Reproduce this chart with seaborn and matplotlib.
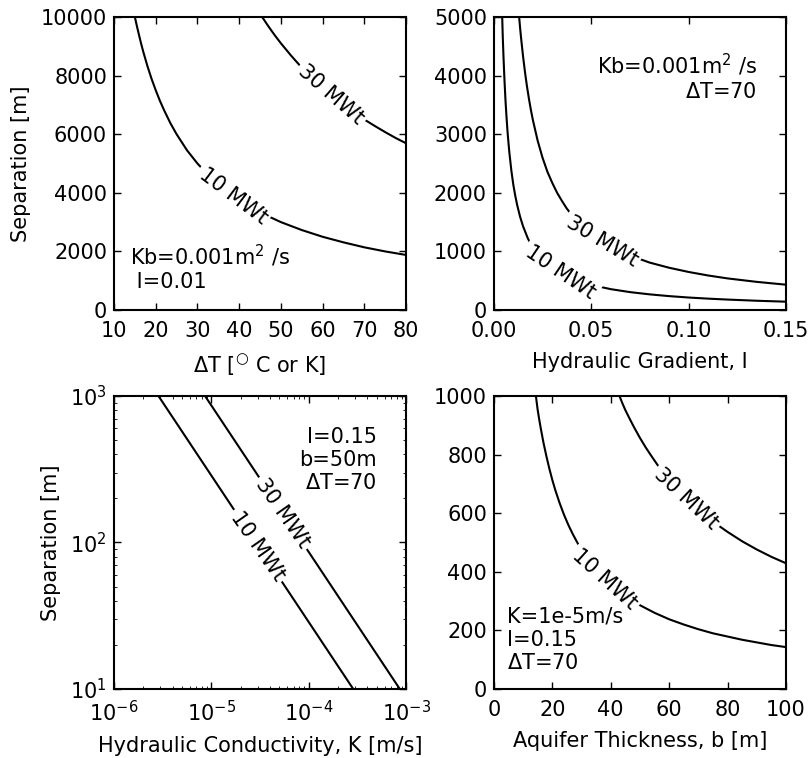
import matplotlib
matplotlib.use('Agg')
import matplotlib.pyplot as plt
import seaborn as sns
from matplotlib.ticker import FormatStrFormatter, MultipleLocator

# separation vs temperature difference (Kb=0.001, I=0.01)
dT_10 = [15, 15.5, 16, 16.5, 17, 18, 19, 20, 21, 22, 23.5, 25, 27.5, 30, 32.5, 35, 37.5,
         40, 45, 50, 55, 60, 65, 70, 75, 80]
sep_dT_10 = [10000, 9680, 9380, 9090, 8820, 8330, 7890, 7500, 7140, 6820, 6380, 6000, 5450,
             5000, 4620, 4290, 4000, 3750, 3330, 3000, 2730, 2500, 2310, 2140, 2000, 1880]
dT_30 = [45.5, 47, 48.5, 50, 52.5, 55, 57.5, 60, 62.5, 65, 67.5, 70, 72.5, 75, 77.5, 80]
sep_dT_30 = [10000, 9680, 9380, 9100, 8670, 8270, 7910, 7580, 7280, 7000, 6740, 6500,
             6280, 6070, 5870, 5690]

# separation vs hydraulic gradient (Kb=0.001, dT=70)
grad_10 = [0.0043, 0.0046, 0.005, 0.0055, 0.006, 0.0065, 0.007, 0.0075, 0.008, 0.009, 0.01,
           0.011, 0.012, 0.0135, 0.015, 0.0175, 0.02, 0.0225, 0.025, 0.03, 0.035, 0.04,
           0.045, 0.05, 0.06, 0.07, 0.08, 0.09, 0.1, 0.11, 0.12, 0.135, 0.15]
sep_grad_10 = [5000, 4650, 4290, 3900, 3570, 3300, 3060, 2860, 2680, 2380, 2140,
               1950, 1790, 1590, 1430, 1220, 1070, 950, 860, 715, 610, 535,
               475, 430, 357, 306, 268, 238, 214, 195, 179, 159, 143]
grad_30 = [0.013, 0.0135, 0.014, 0.015, 0.016, 0.017, 0.018, 0.019, 0.02, 0.0225, 0.025,
           0.0275, 0.03, 0.0325, 0.035, 0.0375, 0.04, 0.045, 0.05, 0.055, 0.06, 0.07,
           0.08, 0.09, 0.1, 0.11, 0.12, 0.135, 0.15]
sep_grad_30 = [5000, 4810, 4640, 4330, 4060, 3820, 3610, 3420, 3250, 2890, 2600,
               2360, 2170, 2000, 1860, 1730, 1625, 1445, 1300, 1180, 1080, 930,
               810, 722, 650, 590, 540, 481, 433]

# separation vs hydraulic conductivity (I=0.15, b=50, dT=70)
cond_10 = [2.86e-6, 1e-5, 2.86e-5, 1e-4, 2.86e-4]
sep_cond_10 = [1000, 286, 100, 28.6, 10]
cond_30 = [8.6e-6, 2e-5, 8.6e-5, 2e-4, 8.6e-4]
sep_cond_30 = [1000, 430, 100, 43, 10]

# separation vs aquifer thickness (K=1e-5, I=0.15, dT=70)
thick_10 = [14.4, 15, 15.5, 16, 17, 18, 19, 20, 21, 22.5, 24, 25.5, 27, 28.5, 30, 32.5, 35,
            37.5, 40, 45, 50, 55, 60, 65, 70, 75, 80, 85, 90, 95, 100]
sep_thick_10 = [1000, 953, 922, 893, 840, 794, 752, 714, 680, 635, 595, 560, 529, 501, 476,
                440, 408, 381, 357, 317, 286, 260, 238, 220, 204, 190, 179, 168, 159, 150, 143]
thick_30 = [43, 44, 45, 46.5, 48, 50, 52, 54, 56, 58, 60, 62.5, 65, 67.5, 70, 75, 80, 85,
            90, 95, 100]
sep_thick_30 = [1000, 975, 952, 922, 893, 857, 824, 794, 765, 739, 714, 686, 659, 635, 612,
                571, 536, 504, 476, 451, 429]

power_labels = ["10 MWt", "30 MWt"]

sns.set_style("ticks", {"xtick.direction": "in", "ytick.direction": "in"})
plt.rcParams.update({
    "font.family": ["DejaVu Sans"],
    "font.size": 15,
    "xtick.labelsize": 15,
    "ytick.labelsize": 15,
    "axes.labelsize": 15,
    "xtick.top": True,
    "ytick.right": True,
    "xtick.major.size": 5,
    "ytick.major.size": 5,
    "xtick.minor.size": 2.5,
    "ytick.minor.size": 2.5,
    "xtick.major.width": 1,
    "ytick.major.width": 1,
    "axes.linewidth": 1.5,
    "axes.edgecolor": "black",
    "xtick.color": "black",
    "ytick.color": "black",
    "text.color": "black",
    "axes.labelcolor": "black",
    "mathtext.default": "regular",
})

fig, axes = plt.subplots(2, 2, figsize=(8.08, 7.58), dpi=100)
fig.subplots_adjust(left=114 / 808, right=786 / 808, top=1 - 17 / 758,
                    bottom=1 - 689 / 758, wspace=0.30, hspace=0.293)


def draw(ax, curves, label_spots):
    for xs, ys in curves:
        sns.lineplot(x=xs, y=ys, ax=ax, color="k", lw=1.5, estimator=None, sort=False)
    for text, (x, y, rot) in zip(power_labels, label_spots):
        ax.text(x, y, text, rotation=rot, rotation_mode="anchor", ha="center", va="center",
                fontsize=15, zorder=5,
                bbox=dict(boxstyle="square,pad=0.15", fc="white", ec="none"))


ax = axes[0, 0]
draw(ax, [(dT_10, sep_dT_10), (dT_30, sep_dT_30)],
     [(38.5, 3900, -37), (62, 7350, -41)])
ax.set_xlim(10, 80)
ax.set_ylim(0, 10000)
ax.xaxis.set_major_locator(MultipleLocator(10))
ax.yaxis.set_major_locator(MultipleLocator(2000))
ax.set_xlabel(r"$\Delta$T [$^{\bigcirc}$ C or K]", labelpad=8)
ax.set_ylabel("Separation [m]", labelpad=7)
ax.text(0.055, 0.06, "Kb=0.001m$^2$ /s\n I=0.01", transform=ax.transAxes,
        ha="left", va="bottom")

ax = axes[0, 1]
draw(ax, [(grad_10, sep_grad_10), (grad_30, sep_grad_30)],
     [(0.034, 640, -34), (0.0555, 1180, -31)])
ax.set_xlim(0, 0.15)
ax.set_ylim(0, 5000)
ax.xaxis.set_major_locator(MultipleLocator(0.05))
ax.xaxis.set_major_formatter(FormatStrFormatter("%.2f"))
ax.yaxis.set_major_locator(MultipleLocator(1000))
ax.set_xlabel("Hydraulic Gradient, I", labelpad=8)
ax.text(0.9, 0.88, "Kb=0.001m$^2$ /s\n$\\Delta$T=70", transform=ax.transAxes,
        ha="right", va="top", multialignment="right")

ax = axes[1, 0]
draw(ax, [(cond_10, sep_cond_10), (cond_30, sep_cond_30)],
     [(3.0e-5, 95, -55), (5.4e-5, 158, -55)])
ax.set_xscale("log")
ax.set_yscale("log")
ax.set_xlim(1e-6, 1e-3)
ax.set_ylim(10, 1000)
ax.set_xlabel("Hydraulic Conductivity, K [m/s]", labelpad=8)
ax.set_ylabel("Separation [m]", labelpad=7)
ax.text(0.9, 0.895, "I=0.15\nb=50m\n$\\Delta$T=70", transform=ax.transAxes,
        ha="right", va="top", multialignment="right")

ax = axes[1, 1]
draw(ax, [(thick_10, sep_thick_10), (thick_30, sep_thick_30)],
     [(38, 375, -42), (66, 650, -43)])
ax.set_xlim(0, 100)
ax.set_ylim(0, 1000)
ax.xaxis.set_major_locator(MultipleLocator(20))
ax.yaxis.set_major_locator(MultipleLocator(200))
ax.set_xlabel("Aquifer Thickness, b [m]", labelpad=8)
ax.text(0.044, 0.055, "K=1e-5m/s\nI=0.15\n$\\Delta$T=70", transform=ax.transAxes,
        ha="left", va="bottom")

for ax in axes.flat:
    ax.tick_params(which="both", top=True, right=True, direction="in")
    ax.tick_params(axis="x", which="both", pad=8)
    ax.tick_params(axis="y", which="both", pad=5)

fig.savefig("out.png", dpi=100)
